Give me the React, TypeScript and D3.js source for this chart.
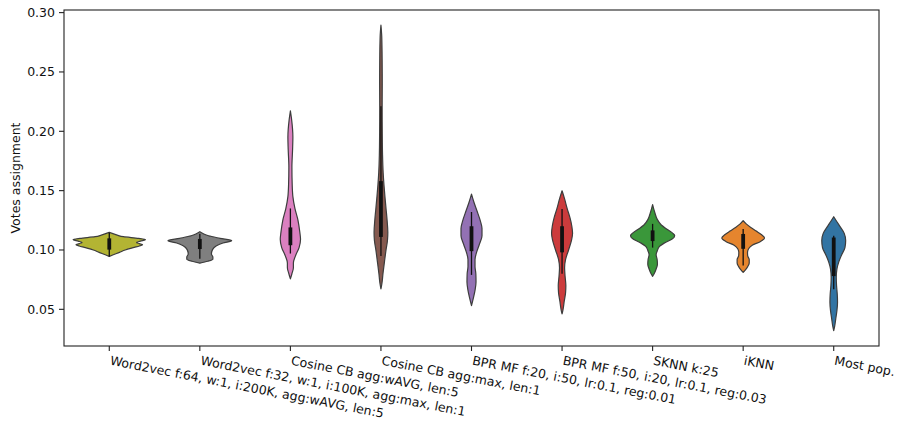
import React from "react";
import * as d3 from "d3";

const categories = [
  "Word2vec f:64, w:1, i:200K, agg:wAVG, len:5",
  "Word2vec f:32, w:1, i:100K, agg:max, len:1",
  "Cosine CB agg:wAVG, len:5",
  "Cosine CB agg:max, len:1",
  "BPR MF f:20, i:50, lr:0.1, reg:0.01",
  "BPR MF f:50, i:20, lr:0.1, reg:0.03",
  "SKNN k:25",
  "iKNN",
  "Most pop.",
];

const colors = [
  "#b3b433", "#7f7f7f", "#db80c0", "#85594f", "#9371b4",
  "#cc3b3c", "#3a973a", "#e5852e", "#3274a3",
];

// density profiles: [value, relative density]
const dens0: [number, number][] = [
  [0.1148, 0], [0.1125, 0.22], [0.1112, 0.39], [0.1098, 0.81], [0.1087, 1.0],
  [0.1075, 0.86], [0.1064, 0.75], [0.1054, 0.83], [0.1045, 0.92], [0.1034, 0.83],
  [0.1022, 0.69], [0.1, 0.44], [0.098, 0.28], [0.096, 0.11], [0.0946, 0],
];
const dens1: [number, number][] = [
  [0.1154, 0], [0.1135, 0.11], [0.112, 0.24], [0.1098, 0.56], [0.1078, 0.88],
  [0.1059, 0.64], [0.1036, 0.46], [0.1003, 0.35], [0.0967, 0.32], [0.094, 0.36],
  [0.0922, 0.36], [0.0905, 0.22], [0.0889, 0],
];
const dens2: [number, number][] = [
  [0.2172, 0], [0.21, 0.033], [0.195, 0.069], [0.185, 0.061], [0.17, 0.042],
  [0.155, 0.05], [0.145, 0.069], [0.135, 0.125], [0.125, 0.21], [0.115, 0.26],
  [0.109, 0.28], [0.102, 0.24], [0.095, 0.14], [0.089, 0.083], [0.085, 0.083],
  [0.08, 0.042], [0.0756, 0],
];
const dens3: [number, number][] = [
  [0.2894, 0], [0.28, 0.022], [0.26, 0.033], [0.24, 0.036], [0.22, 0.033],
  [0.2, 0.036], [0.18, 0.044], [0.165, 0.061], [0.155, 0.083], [0.145, 0.11],
  [0.135, 0.14], [0.125, 0.17], [0.115, 0.19], [0.108, 0.18], [0.1, 0.14],
  [0.09, 0.097], [0.08, 0.056], [0.072, 0.028], [0.0672, 0],
];
const dens4: [number, number][] = [
  [0.1471, 0], [0.14, 0.07], [0.133, 0.15], [0.125, 0.24], [0.118, 0.29],
  [0.112, 0.29], [0.105, 0.22], [0.098, 0.14], [0.092, 0.097], [0.086, 0.097],
  [0.08, 0.12], [0.073, 0.125], [0.066, 0.097], [0.06, 0.056], [0.0531, 0],
];
const dens5: [number, number][] = [
  [0.1499, 0], [0.143, 0.07], [0.135, 0.14], [0.127, 0.22], [0.12, 0.27],
  [0.114, 0.29], [0.108, 0.26], [0.1, 0.18], [0.092, 0.097], [0.085, 0.07],
  [0.078, 0.083], [0.07, 0.105], [0.064, 0.097], [0.057, 0.061], [0.05, 0.028],
  [0.0461, 0],
];
const dens6: [number, number][] = [
  [0.1383, 0], [0.132, 0.056], [0.126, 0.125], [0.121, 0.24], [0.117, 0.42],
  [0.114, 0.56], [0.112, 0.61], [0.109, 0.53], [0.106, 0.33], [0.103, 0.19],
  [0.099, 0.125], [0.096, 0.097], [0.092, 0.125], [0.088, 0.133], [0.084, 0.097],
  [0.08, 0.042], [0.0778, 0],
];
const dens7: [number, number][] = [
  [0.1247, 0], [0.122, 0.083], [0.119, 0.21], [0.116, 0.36], [0.113, 0.5],
  [0.11, 0.59], [0.107, 0.47], [0.104, 0.25], [0.101, 0.15], [0.098, 0.12],
  [0.095, 0.125], [0.092, 0.167], [0.089, 0.167], [0.086, 0.125], [0.083, 0.056],
  [0.0811, 0],
];
const dens8: [number, number][] = [
  [0.128, 0], [0.124, 0.083], [0.119, 0.19], [0.114, 0.29], [0.108, 0.33],
  [0.102, 0.31], [0.096, 0.22], [0.09, 0.14], [0.084, 0.089], [0.077, 0.07],
  [0.07, 0.078], [0.063, 0.097], [0.056, 0.105], [0.049, 0.089], [0.042, 0.056],
  [0.036, 0.028], [0.032, 0],
];
const densities = [dens0, dens1, dens2, dens3, dens4, dens5, dens6, dens7, dens8];

// inner box stats
const whiskerLow = [0.0945, 0.0927, 0.097, 0.095, 0.079, 0.08, 0.102, 0.087, 0.067];
const q1 = [0.1003, 0.1008, 0.104, 0.111, 0.099, 0.098, 0.1075, 0.101, 0.078];
const q3 = [0.1098, 0.1093, 0.119, 0.158, 0.12, 0.12, 0.1165, 0.1135, 0.1105];
const whiskerHigh = [0.1145, 0.1137, 0.135, 0.221, 0.132, 0.1345, 0.122, 0.1177, 0.112];

const yTicks = [0.05, 0.1, 0.15, 0.2, 0.25, 0.3];
const yLabel = "Votes assignment";

const W = 897;
const H = 427;
const M = { left: 64, top: 10, right: 879, bottom: 346 };
const FONT = "'DejaVu Sans', sans-serif";
const FS = 12.5;

export default function App() {
  const x = d3.scaleBand<string>().domain(categories).range([M.left, M.right]).padding(0);
  const y = d3.scaleLinear().domain([0.0191, 0.3022]).range([M.bottom, M.top]);
  const w = d3.scaleLinear().domain([0, 1]).range([0, x.bandwidth() * 0.4]);

  return (
    <svg width={W} height={H} style={{ position: "absolute", left: 0, top: 0, background: "#fff" }}>
      <rect x={0} y={0} width={W} height={H} fill="#fff" />
      {categories.map((c, i) => {
        const cx = x(c)! + x.bandwidth() / 2;
        const area = d3
          .area<[number, number]>()
          .y((d) => y(d[0]))
          .x0((d) => cx - w(d[1]))
          .x1((d) => cx + w(d[1]))
          .curve(d3.curveMonotoneY);
        return (
          <g key={c}>
            <path d={area(densities[i])!} fill={colors[i]} stroke="#3d3d3d" strokeWidth={1.2} strokeLinejoin="round" />
            <line x1={cx} x2={cx} y1={y(whiskerLow[i])} y2={y(whiskerHigh[i])} stroke="#111" strokeWidth={1.3} />
            <line x1={cx} x2={cx} y1={y(q1[i])} y2={y(q3[i])} stroke="#111" strokeWidth={3.8} />
          </g>
        );
      })}
      <rect x={M.left} y={M.top} width={M.right - M.left} height={M.bottom - M.top} fill="none" stroke="#222" strokeWidth={1.1} />
      {yTicks.map((t) => (
        <g key={t} transform={`translate(0,${y(t)})`}>
          <line x1={M.left - 5} x2={M.left} stroke="#222" strokeWidth={1.1} />
          <text x={M.left - 9} dy="0.34em" textAnchor="end" fontFamily={FONT} fontSize={FS} fill="#111">
            {t.toFixed(2)}
          </text>
        </g>
      ))}
      {categories.map((c) => {
        const cx = x(c)! + x.bandwidth() / 2;
        return (
          <g key={c}>
            <line x1={cx} x2={cx} y1={M.bottom} y2={M.bottom + 5} stroke="#222" strokeWidth={1.1} />
            <g transform={`translate(${cx + 2},${M.bottom + 9}) rotate(11)`}>
              <text dy="0.78em" fontFamily={FONT} fontSize={FS} fill="#111">
                {c}
              </text>
            </g>
          </g>
        );
      })}
      <text
        transform={`translate(20,${(M.top + M.bottom) / 2}) rotate(-90)`}
        textAnchor="middle"
        fontFamily={FONT}
        fontSize={FS}
        fill="#111"
      >
        {yLabel}
      </text>
    </svg>
  );
}
